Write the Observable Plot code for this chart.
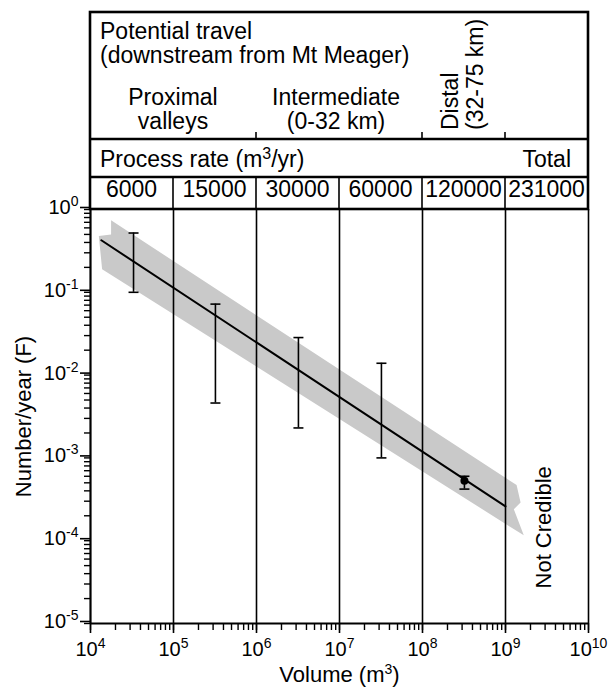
<!DOCTYPE html>
<html>
<head>
<meta charset="utf-8">
<script src="https://cdn.jsdelivr.net/npm/d3@7"></script>
<script src="https://cdn.jsdelivr.net/npm/@observablehq/plot@0.6"></script>
<style>
  body { margin: 0; background: #fff; }
  #chart svg { display: block; }
</style>
</head>
<body>
<div id="chart"></div>
<script>
// ---------- data ----------
const decadeTicksX = [1e4, 1e5, 1e6, 1e7, 1e8, 1e9, 1e10];
const decadeTicksY = [1e-5, 1e-4, 1e-3, 1e-2, 1e-1, 1e0];
const dividers = [1e5, 1e6, 1e7, 1e8, 1e9, 1e10];

const rateCellStart = [1e4, 1e5, 1e6, 1e7, 1e8, 1e9];
const rateCellEnd   = [1e5, 1e6, 1e7, 1e8, 1e9, 1e10];
const processRates  = ["6000", "15000", "30000", "60000", "120000", "231000"];

// fitted magnitude-frequency line
const fitVolume = [1.35e4, 1e9];
const fitFreq   = [0.425, 2.6e-4];

// error bars
const errVolume = [3.3e4, 3.2e5, 3.2e6, 3.2e7, 3.2e8];
const errHigh   = [0.52, 0.072, 0.0284, 0.0139, 6.0e-4];
const errLow    = [0.10, 0.0046, 0.0023, 0.0010, 4.2e-4];

// measured event
const pointVolume = [3.2e8];
const pointFreq   = [5.3e-4];

// grey uncertainty band outline
const bandVolume = [1.77e4, 1.36e9, 1.52e9, 1.26e9, 1.66e9, 1.38e4, 1.26e4, 1.77e4];
const bandFreq   = [0.74, 4.7e-4, 2.9e-4, 2.4e-4, 1.16e-4, 0.19, 0.48, 0.50];

// ---------- tables for the library ----------
const band = bandVolume.map((v, i) => ({v, f: bandFreq[i]}));
const fit = fitVolume.map((v, i) => ({v, f: fitFreq[i]}));
const errs = errVolume.map((v, i) => ({v, hi: errHigh[i], lo: errLow[i]}));
const pts = pointVolume.map((v, i) => ({v, f: pointFreq[i]}));

const minorX = d3.scaleLog().domain([1e4, 1e10]).ticks();
const minorY = d3.scaleLog().domain([1e-5, 1e0]).ticks();

const capSymbol = {
  draw(ctx, size) {
    const w = Math.sqrt(size / Math.PI);
    ctx.moveTo(-w, 0);
    ctx.lineTo(w, 0);
  }
};

const FONT = "'Liberation Sans', Arial, Helvetica, sans-serif";
const expFmt = d => `10{${Math.round(Math.log10(d))}}`;

const plot = Plot.plot({
  width: 614,
  height: 689,
  marginLeft: 90,
  marginRight: 26,
  marginTop: 209,
  marginBottom: 66,
  x: {type: "log", domain: [1e4, 1e10]},
  y: {type: "log", domain: [1e-5, 1e0]},
  style: {fontFamily: FONT, background: "#fff", color: "#000"},
  marks: [
    Plot.line(band, {x: "v", y: "f", fill: "#c9c9c9", stroke: null}),
    Plot.ruleX(dividers, {y1: 1e-5, y2: 1e0, stroke: "#000", strokeWidth: 1.6}),
    Plot.ruleX([1e4], {y1: 1e-5, y2: 1e0, stroke: "#000", strokeWidth: 2.2}),
    Plot.ruleY([1e-5], {stroke: "#000", strokeWidth: 2.2}),
    Plot.axisX(minorX, {tickSize: 7, tickFormat: () => "", strokeWidth: 1.4, label: null}),
    Plot.axisX(decadeTicksX, {tickSize: 10, tickPadding: 8, tickFormat: expFmt, fontSize: 20, strokeWidth: 1.6, label: null}),
    Plot.axisY(minorY, {tickSize: 6, tickFormat: () => "", strokeWidth: 1.4, label: null}),
    Plot.axisY(decadeTicksY, {tickSize: 10, tickPadding: 2, tickFormat: expFmt, fontSize: 20, dy: -2, strokeWidth: 1.6, label: null}),
    Plot.line(fit, {x: "v", y: "f", stroke: "#000", strokeWidth: 2}),
    Plot.ruleX(errs, {x: "v", y1: "lo", y2: "hi", stroke: "#000", strokeWidth: 1.6}),
    Plot.dot(errs, {x: "v", y: "hi", symbol: capSymbol, r: 5, stroke: "#000", strokeWidth: 1.6}),
    Plot.dot(errs, {x: "v", y: "lo", symbol: capSymbol, r: 5, stroke: "#000", strokeWidth: 1.6}),
    Plot.dot(pts, {x: "v", y: "f", r: 4, fill: "#000", stroke: null}),
    Plot.text(["Not Credible"], {x: 2.87e9, y: 1.45e-4, rotate: -90, fontSize: 22, textAnchor: "middle", lineAnchor: "middle", fill: "#000"}),
    Plot.text(["Number/year (F)"], {frameAnchor: "left", rotate: -90, dx: -67, fontSize: 22, textAnchor: "middle", lineAnchor: "middle", fill: "#000"}),
    Plot.text(["Volume (m{3})"], {frameAnchor: "bottom", dy: 58, fontSize: 22, textAnchor: "middle", lineAnchor: "bottom", fill: "#000"})
  ]
});

const NS = "http://www.w3.org/2000/svg";
// rich text: segments in {} become superscripts
function appendRich(el, str, supSize) {
  const parts = str.split(/(\{[^}]*\})/).filter(s => s.length);
  let raised = false;
  for (const p of parts) {
    const t = document.createElementNS(NS, "tspan");
    if (p.startsWith("{")) {
      t.textContent = p.slice(1, -1);
      t.setAttribute("font-size", supSize);
      t.setAttribute("dy", "-8");
      raised = true;
    } else {
      t.textContent = p;
      if (raised) { t.setAttribute("dy", "8"); raised = false; }
    }
    el.appendChild(t);
  }
}
function setRich(el, str, supSize) {
  el.textContent = "";
  appendRich(el, str, supSize);
}

const svg = d3.select(plot);
svg.selectAll("text").each(function () {
  const s = this.textContent;
  if (s.includes("{")) setRich(this, s, 14);
});

// ---------- header table above the plot ----------
const xs = v => plot.scale("x").apply(v);
const tableTop = 12, row1 = 139, row2 = 177, row3 = 209;
const tg = svg.append("g").attr("fill", "none").attr("stroke", "#000");
tg.append("rect")
  .attr("x", xs(1e4)).attr("y", tableTop)
  .attr("width", xs(1e10) - xs(1e4)).attr("height", row3 - tableTop)
  .attr("stroke-width", 2.6);
[row1, row2].forEach(yy => tg.append("line")
  .attr("x1", xs(1e4)).attr("x2", xs(1e10)).attr("y1", yy).attr("y2", yy)
  .attr("stroke-width", 2.4));
dividers.slice(0, 5).forEach(v => tg.append("line")
  .attr("x1", xs(v)).attr("x2", xs(v)).attr("y1", row2).attr("y2", row3)
  .attr("stroke-width", 1.6));
[1e6, 1e8, 1e9].forEach(v => tg.append("line")
  .attr("x1", xs(v)).attr("x2", xs(v)).attr("y1", row1 - 7).attr("y2", row1)
  .attr("stroke-width", 1.6));

const txt = svg.append("g").attr("font-family", FONT).attr("font-size", 23).attr("fill", "#000");
// lines: array of strings; lineGap in px; rotated text stacks lines to the right
function addText(x, y, lines, anchor, rot, lineGap) {
  if (!Array.isArray(lines)) lines = [lines];
  const t = txt.append("text").attr("text-anchor", anchor || "start");
  if (rot) t.attr("transform", `translate(${x},${y}) rotate(${rot})`);
  else t.attr("transform", `translate(${x},${y})`);
  const el = t.node();
  lines.forEach((s, i) => {
    const line = document.createElementNS(NS, "tspan");
    line.setAttribute("x", 0);
    line.setAttribute("y", i * (lineGap || 0));
    appendRich(line, s, 16);
    el.appendChild(line);
  });
  return t;
}
addText(100, 39, ["Potential travel", "(downstream from Mt Meager)"], "start", 0, 24);
addText(xs(1e5), 105, ["Proximal", "valleys"], "middle", 0, 24);
addText(xs(1e7) - 3, 105, ["Intermediate", "(0-32 km)"], "middle", 0, 24);
addText(xs(1e8) + 36, 130, ["Distal", "(32-75 km)"], "start", -90, 25);
addText(100, 167, "Process rate (m{3}/yr)");
addText(xs(1e10) - 17, 167, "Total", "end");
processRates.forEach((r, i) => {
  const cx = (xs(rateCellStart[i]) + xs(rateCellEnd[i])) / 2;
  addText(cx, 197, r, "middle");
});

document.getElementById("chart").appendChild(plot);
</script>
</body>
</html>
